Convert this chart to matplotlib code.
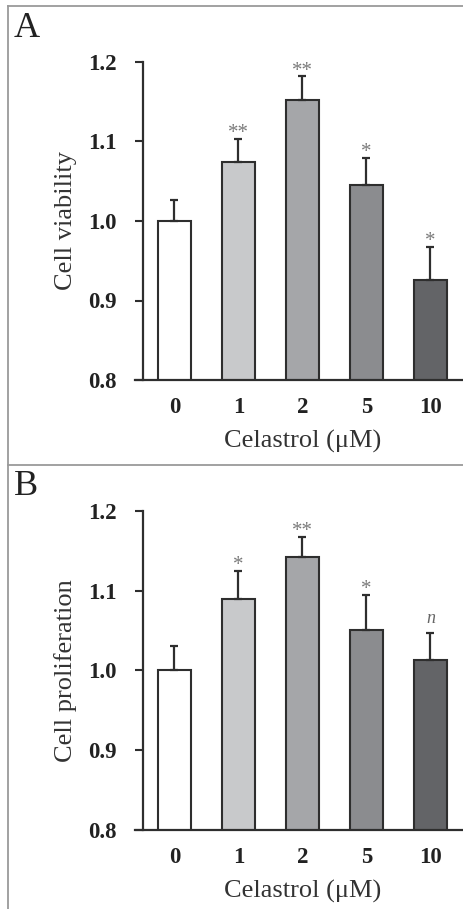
import matplotlib
matplotlib.use("Agg")
import matplotlib.pyplot as plt
from matplotlib.lines import Line2D

categories = ["0", "1", "2", "5", "10"]
viability = [1.000, 1.074, 1.152, 1.045, 0.926]
viability_err = [0.026, 0.029, 0.030, 0.034, 0.041]
viability_sig = ["", "**", "**", "*", "*"]
prolif = [1.000, 1.090, 1.142, 1.051, 1.013]
prolif_err = [0.031, 0.035, 0.026, 0.044, 0.034]
prolif_sig = ["", "*", "**", "*", "n"]
bar_colors = ["#ffffff", "#c8c9cb", "#a5a6a9", "#8b8c8f", "#636467"]
yticks = [0.8, 0.9, 1.0, 1.1, 1.2]

plt.rcParams['font.family'] = ['Liberation Serif', 'DejaVu Serif']
W, H = 463, 909
fig = plt.figure(figsize=(W/100, H/100), dpi=100)
fig.patch.set_facecolor("white")

ec = "#2e2e2e"

def panel(rect, vals, errs, sigs, ylabel, letter, lx, ly):
    ax = fig.add_axes(rect)
    ax.set_facecolor("none")
    x = list(range(len(categories)))
    ax.bar(x, vals, width=0.52, color=bar_colors, edgecolor=ec, linewidth=1.5, bottom=0,
           zorder=2)
    ax.errorbar(x, vals, yerr=[[0]*len(errs), errs], fmt="none", ecolor=ec,
                elinewidth=1.6, capsize=3, capthick=1.6, zorder=3)
    for xi, v, e, s in zip(x, vals, errs, sigs):
        if not s:
            continue
        if s == "n":
            ax.text(xi, v + e + 0.008, "n", ha="center", va="bottom", fontsize=13,
                    style="italic", color="#666666")
        else:
            ax.text(xi, v + e + 0.001, s, ha="center", va="baseline", fontsize=15,
                    color="#7a7a7a")
    ax.set_xlim(-0.49, 4.51)
    ax.set_ylim(0.8, 1.2)
    ax.set_yticks(yticks)
    ax.set_yticklabels([f"{t:.1f}" for t in yticks], fontsize=16.5, fontweight="bold",
                       color="#222222")
    ax.set_xticks(x)
    ax.set_xticklabels(categories, fontsize=16.5, fontweight="bold", color="#222222")
    ax.tick_params(axis="y", direction="out", length=6, width=1.5, color=ec, pad=13)
    ax.tick_params(axis="x", length=0, pad=12)
    for s in ["top", "right"]:
        ax.spines[s].set_visible(False)
    for s in ["left", "bottom"]:
        ax.spines[s].set_linewidth(1.6)
        ax.spines[s].set_color(ec)
    ax.spines["bottom"].set_bounds(-0.49 - 8/64, 4.51)
    ax.spines["bottom"].set_clip_on(False)
    ax.set_xlabel("Celastrol (μM)", fontsize=19, color="#333333", labelpad=9)
    ax.set_ylabel(ylabel, fontsize=19, color="#333333", labelpad=8)
    fig.text(lx, ly, letter, fontsize=26, color="#222222", ha="left", va="top")
    return ax

left = 143 / W
width = (W - 143) / W
axA = panel([left, (H - 380) / H, width, 318 / H], viability, viability_err, viability_sig,
            "Cell viability", "A", 14 / W, 1 - 12 / H)
axB = panel([left, (H - 830) / H, width, 319 / H], prolif, prolif_err, prolif_sig,
            "Cell proliferation", "B", 14 / W, 1 - 470 / H)

border = "#9a9a9a"
for (x0, y0, x1, y1) in [(8, 6, W, 6), (8, 6, 8, H), (8, 465, W, 465)]:
    fig.add_artist(Line2D([x0 / W, x1 / W], [1 - y0 / H, 1 - y1 / H], color=border,
                          linewidth=1.3, transform=fig.transFigure))

fig.savefig("out.png", dpi=100)
